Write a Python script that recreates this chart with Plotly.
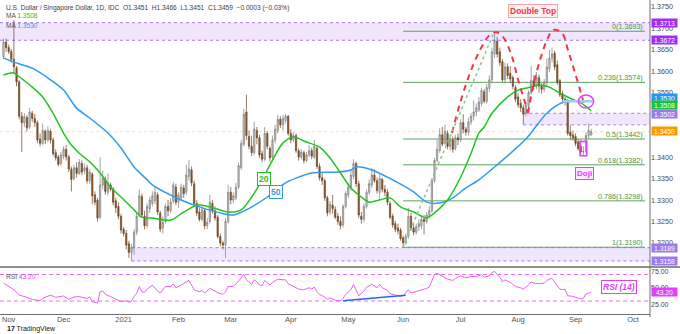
import numpy as np
import pandas as pd
import plotly.graph_objects as go

# ---------------- USD/SGD daily candles (IDC), 29 Oct 2020 .. 9 Sep 2021 ----------------
open_px = [
    1.3634, 1.3668, 1.3655, 1.3646, 1.3628, 1.3608, 1.3575, 1.3495, 1.3480, 1.3492, 1.3470, 1.3502,
    1.3490, 1.3480, 1.3442, 1.3432, 1.3460, 1.3440, 1.3460, 1.3440, 1.3410, 1.3400,
    1.3385, 1.3402, 1.3418, 1.3400, 1.3372, 1.3350, 1.3375, 1.3362, 1.3385, 1.3368,
    1.3375, 1.3345, 1.3360, 1.3312, 1.3300, 1.3260, 1.3335, 1.3348, 1.3318, 1.3335,
    1.3325, 1.3298, 1.3285, 1.3262, 1.3232, 1.3222, 1.3198, 1.3178, 1.3188, 1.3225,
    1.3265, 1.3308, 1.3262, 1.3240, 1.3280, 1.3292, 1.3298, 1.3312, 1.3270, 1.3235,
    1.3250, 1.3285, 1.3275, 1.3298, 1.3330, 1.3295, 1.3305, 1.3328, 1.3318, 1.3355,
    1.3370, 1.3338, 1.3292, 1.3272, 1.3255, 1.3275, 1.3240, 1.3250, 1.3292, 1.3275,
    1.3260, 1.3215, 1.3200, 1.3195, 1.3250, 1.3318, 1.3300, 1.3305, 1.3330, 1.3375,
    1.3430, 1.3505, 1.3448, 1.3425, 1.3410, 1.3462, 1.3445, 1.3408, 1.3395, 1.3455,
    1.3420, 1.3400, 1.3440, 1.3462, 1.3488, 1.3475, 1.3485, 1.3495, 1.3455, 1.3440,
    1.3450, 1.3415, 1.3400, 1.3410, 1.3392, 1.3405, 1.3415, 1.3400, 1.3420, 1.3378,
    1.3352, 1.3345, 1.3305, 1.3272, 1.3288, 1.3278, 1.3262, 1.3250, 1.3242, 1.3285,
    1.3312, 1.3330, 1.3355, 1.3385, 1.3338, 1.3262, 1.3255, 1.3285, 1.3318, 1.3335,
    1.3358, 1.3345, 1.3318, 1.3348, 1.3325, 1.3318, 1.3292, 1.3262, 1.3245, 1.3235,
    1.3230, 1.3212, 1.3200, 1.3215, 1.3262, 1.3235, 1.3225, 1.3238, 1.3240, 1.3255,
    1.3250, 1.3265, 1.3275, 1.3345, 1.3392, 1.3415, 1.3452, 1.3432, 1.3455, 1.3425,
    1.3440, 1.3420, 1.3445, 1.3440, 1.3480, 1.3465, 1.3458, 1.3482, 1.3495, 1.3505,
    1.3510, 1.3525, 1.3552, 1.3530, 1.3560, 1.3580, 1.3640, 1.3670, 1.3645, 1.3622,
    1.3580, 1.3610, 1.3595, 1.3585, 1.3562, 1.3540, 1.3525, 1.3515, 1.3502, 1.3520,
    1.3550, 1.3578, 1.3565, 1.3585, 1.3565, 1.3558, 1.3575, 1.3605, 1.3630, 1.3642,
    1.3615, 1.3578, 1.3548, 1.3535, 1.3530, 1.3458, 1.3452, 1.3448, 1.3435, 1.3425,
    1.3412, 1.3413, 1.3450, 1.3451,
]
high_px = [
    1.3676, 1.3676, 1.3662, 1.3652, 1.3719, 1.3612, 1.3580, 1.3505, 1.3502, 1.3498, 1.3515, 1.3508,
    1.3500, 1.3485, 1.3455, 1.3478, 1.3465, 1.3472, 1.3466, 1.3445, 1.3418, 1.3405,
    1.3412, 1.3425, 1.3428, 1.3405, 1.3378, 1.3382, 1.3388, 1.3395, 1.3392, 1.3385,
    1.3382, 1.3372, 1.3365, 1.3320, 1.3305, 1.3400, 1.3368, 1.3355, 1.3362, 1.3340,
    1.3330, 1.3305, 1.3295, 1.3268, 1.3238, 1.3230, 1.3205, 1.3198, 1.3232, 1.3270,
    1.3325, 1.3315, 1.3275, 1.3292, 1.3308, 1.3320, 1.3330, 1.3318, 1.3275, 1.3262,
    1.3292, 1.3300, 1.3305, 1.3342, 1.3338, 1.3318, 1.3338, 1.3335, 1.3382, 1.3393,
    1.3378, 1.3345, 1.3300, 1.3282, 1.3285, 1.3280, 1.3258, 1.3312, 1.3300, 1.3285,
    1.3265, 1.3222, 1.3205, 1.3258, 1.3335, 1.3330, 1.3318, 1.3340, 1.3388, 1.3440,
    1.3512, 1.3545, 1.3462, 1.3450, 1.3482, 1.3470, 1.3452, 1.3415, 1.3470, 1.3460,
    1.3425, 1.3450, 1.3475, 1.3498, 1.3495, 1.3498, 1.3500, 1.3498, 1.3465, 1.3458,
    1.3455, 1.3420, 1.3418, 1.3415, 1.3412, 1.3428, 1.3422, 1.3440, 1.3425, 1.3385,
    1.3362, 1.3350, 1.3310, 1.3298, 1.3312, 1.3285, 1.3270, 1.3262, 1.3290, 1.3320,
    1.3340, 1.3370, 1.3395, 1.3390, 1.3345, 1.3272, 1.3292, 1.3325, 1.3348, 1.3375,
    1.3372, 1.3352, 1.3360, 1.3352, 1.3335, 1.3325, 1.3298, 1.3268, 1.3252, 1.3245,
    1.3235, 1.3218, 1.3222, 1.3282, 1.3270, 1.3245, 1.3245, 1.3255, 1.3262, 1.3265,
    1.3272, 1.3285, 1.3350, 1.3398, 1.3440, 1.3468, 1.3470, 1.3475, 1.3462, 1.3450,
    1.3448, 1.3452, 1.3455, 1.3488, 1.3500, 1.3470, 1.3492, 1.3502, 1.3532, 1.3525,
    1.3540, 1.3562, 1.3558, 1.3570, 1.3590, 1.3655, 1.3693, 1.3680, 1.3655, 1.3628,
    1.3620, 1.3618, 1.3612, 1.3590, 1.3568, 1.3548, 1.3535, 1.3522, 1.3528, 1.3555,
    1.3612, 1.3590, 1.3598, 1.3592, 1.3572, 1.3582, 1.3630, 1.3650, 1.3655, 1.3648,
    1.3625, 1.3582, 1.3555, 1.3545, 1.3535, 1.3475, 1.3462, 1.3455, 1.3442, 1.3440,
    1.3425, 1.3458, 1.3478, 1.3466,
]
low_px = [
    1.3628, 1.3645, 1.3640, 1.3620, 1.3596, 1.3565, 1.3488, 1.3412, 1.3470, 1.3460, 1.3465, 1.3482,
    1.3470, 1.3432, 1.3425, 1.3428, 1.3430, 1.3435, 1.3432, 1.3402, 1.3392, 1.3378,
    1.3380, 1.3395, 1.3392, 1.3365, 1.3320, 1.3345, 1.3352, 1.3358, 1.3358, 1.3360,
    1.3338, 1.3338, 1.3290, 1.3288, 1.3250, 1.3255, 1.3325, 1.3312, 1.3310, 1.3320,
    1.3288, 1.3270, 1.3255, 1.3222, 1.3215, 1.3185, 1.3165, 1.3158, 1.3172, 1.3218,
    1.3260, 1.3258, 1.3232, 1.3235, 1.3270, 1.3285, 1.3290, 1.3265, 1.3225, 1.3222,
    1.3245, 1.3262, 1.3270, 1.3292, 1.3288, 1.3282, 1.3298, 1.3305, 1.3312, 1.3345,
    1.3332, 1.3285, 1.3262, 1.3250, 1.3250, 1.3232, 1.3232, 1.3245, 1.3268, 1.3252,
    1.3210, 1.3192, 1.3185, 1.3165, 1.3245, 1.3290, 1.3292, 1.3300, 1.3325, 1.3370,
    1.3425, 1.3440, 1.3418, 1.3402, 1.3405, 1.3430, 1.3398, 1.3388, 1.3390, 1.3418,
    1.3390, 1.3395, 1.3432, 1.3455, 1.3468, 1.3462, 1.3478, 1.3450, 1.3432, 1.3435,
    1.3410, 1.3392, 1.3395, 1.3385, 1.3388, 1.3400, 1.3395, 1.3395, 1.3372, 1.3345,
    1.3335, 1.3298, 1.3262, 1.3265, 1.3268, 1.3255, 1.3242, 1.3232, 1.3236, 1.3280,
    1.3305, 1.3322, 1.3348, 1.3330, 1.3258, 1.3245, 1.3248, 1.3280, 1.3312, 1.3328,
    1.3340, 1.3315, 1.3300, 1.3318, 1.3308, 1.3288, 1.3255, 1.3235, 1.3225, 1.3220,
    1.3205, 1.3190, 1.3196, 1.3210, 1.3228, 1.3218, 1.3220, 1.3228, 1.3232, 1.3220,
    1.3245, 1.3258, 1.3270, 1.3340, 1.3388, 1.3410, 1.3425, 1.3428, 1.3418, 1.3415,
    1.3410, 1.3415, 1.3428, 1.3435, 1.3455, 1.3450, 1.3450, 1.3475, 1.3485, 1.3495,
    1.3505, 1.3518, 1.3525, 1.3525, 1.3552, 1.3572, 1.3630, 1.3632, 1.3612, 1.3575,
    1.3572, 1.3582, 1.3572, 1.3558, 1.3528, 1.3515, 1.3505, 1.3476, 1.3495, 1.3512,
    1.3545, 1.3556, 1.3558, 1.3550, 1.3548, 1.3552, 1.3565, 1.3598, 1.3620, 1.3602,
    1.3568, 1.3540, 1.3525, 1.3520, 1.3450, 1.3440, 1.3438, 1.3425, 1.3415, 1.3403,
    1.3405, 1.3408, 1.3442, 1.3451,
]
close_px = [
    1.3668, 1.3655, 1.3646, 1.3628, 1.3610, 1.3575, 1.3495, 1.3480, 1.3494, 1.3468, 1.3505, 1.3490,
    1.3480, 1.3440, 1.3432, 1.3462, 1.3440, 1.3462, 1.3440, 1.3408, 1.3398, 1.3383,
    1.3405, 1.3418, 1.3400, 1.3372, 1.3348, 1.3375, 1.3362, 1.3388, 1.3365, 1.3375,
    1.3345, 1.3365, 1.3310, 1.3295, 1.3258, 1.3335, 1.3350, 1.3320, 1.3340, 1.3325,
    1.3295, 1.3282, 1.3262, 1.3230, 1.3222, 1.3195, 1.3178, 1.3190, 1.3225, 1.3262,
    1.3310, 1.3265, 1.3240, 1.3285, 1.3300, 1.3310, 1.3318, 1.3272, 1.3232, 1.3248,
    1.3285, 1.3275, 1.3295, 1.3335, 1.3295, 1.3312, 1.3330, 1.3315, 1.3358, 1.3372,
    1.3340, 1.3292, 1.3270, 1.3255, 1.3278, 1.3240, 1.3248, 1.3295, 1.3275, 1.3258,
    1.3215, 1.3200, 1.3195, 1.3250, 1.3318, 1.3300, 1.3310, 1.3330, 1.3380, 1.3432,
    1.3500, 1.3450, 1.3425, 1.3410, 1.3465, 1.3445, 1.3405, 1.3395, 1.3455, 1.3425,
    1.3398, 1.3440, 1.3465, 1.3488, 1.3475, 1.3490, 1.3495, 1.3455, 1.3440, 1.3450,
    1.3415, 1.3400, 1.3412, 1.3392, 1.3405, 1.3415, 1.3402, 1.3425, 1.3378, 1.3352,
    1.3345, 1.3305, 1.3270, 1.3290, 1.3280, 1.3260, 1.3250, 1.3240, 1.3285, 1.3315,
    1.3330, 1.3358, 1.3385, 1.3338, 1.3265, 1.3255, 1.3285, 1.3318, 1.3338, 1.3358,
    1.3345, 1.3322, 1.3350, 1.3325, 1.3318, 1.3295, 1.3260, 1.3242, 1.3232, 1.3228,
    1.3210, 1.3200, 1.3215, 1.3262, 1.3235, 1.3225, 1.3238, 1.3245, 1.3255, 1.3250,
    1.3265, 1.3275, 1.3345, 1.3392, 1.3418, 1.3452, 1.3430, 1.3460, 1.3425, 1.3440,
    1.3418, 1.3445, 1.3440, 1.3480, 1.3465, 1.3458, 1.3482, 1.3495, 1.3505, 1.3515,
    1.3528, 1.3555, 1.3530, 1.3562, 1.3580, 1.3645, 1.3672, 1.3640, 1.3620, 1.3580,
    1.3610, 1.3590, 1.3582, 1.3565, 1.3535, 1.3522, 1.3515, 1.3500, 1.3520, 1.3550,
    1.3578, 1.3565, 1.3585, 1.3565, 1.3558, 1.3575, 1.3610, 1.3630, 1.3640, 1.3610,
    1.3575, 1.3545, 1.3535, 1.3530, 1.3455, 1.3450, 1.3445, 1.3432, 1.3420, 1.3412,
    1.3413, 1.3450, 1.3462, 1.3459,
]

dates = pd.bdate_range("2020-10-29", periods=len(close_px))
bar = np.arange(len(close_px))


def bar_of(day):
    return int(dates.get_loc(pd.Timestamp(day)))


# moving averages (bar number in the daily series, value)
ma20_bar = [0, 4, 6, 11, 15, 19, 23, 26, 29, 33, 37, 41, 45, 50, 53, 57, 64, 69, 74, 79,
            86, 91, 96, 99, 103, 107, 111, 116, 121, 125, 129, 133, 137, 140, 144, 148, 152, 157, 162, 164,
            170, 175, 179, 182, 184, 187, 193, 197, 202, 205, 209, 213, 217, 221, 225]
ma20_val = [1.3591, 1.3596, 1.3587, 1.3563, 1.3540, 1.3502, 1.3456, 1.3428, 1.3409, 1.3389,
            1.3363, 1.3330, 1.3307, 1.3277, 1.3260, 1.3258, 1.3253, 1.3272, 1.3288, 1.3284,
            1.3272, 1.3277, 1.3316, 1.3347, 1.3393, 1.3433, 1.3447, 1.3435, 1.3423, 1.3398,
            1.3363, 1.3328, 1.3307, 1.3295, 1.3300, 1.3305, 1.3284, 1.3272, 1.3258, 1.3265,
            1.3300, 1.3353, 1.3409, 1.3456, 1.3470, 1.3502, 1.3540, 1.3556, 1.3563, 1.3568,
            1.3563, 1.3549, 1.3537, 1.3526, 1.3508]
ma50_bar = [0, 4, 11, 18, 23, 28, 33, 40, 45, 50, 55, 57, 68, 75, 83, 88, 93, 101, 108, 112,
            118, 128, 133, 135, 141, 149, 157, 162, 167, 172, 177, 182, 189, 200, 208, 214, 218, 225]
ma50_val = [1.3631, 1.3621, 1.3607, 1.3580, 1.3556, 1.3514, 1.3491, 1.3456, 1.3421, 1.3377,
            1.3347, 1.3335, 1.3300, 1.3284, 1.3270, 1.3265, 1.3277, 1.3307, 1.3340, 1.3351,
            1.3363, 1.3365, 1.3370, 1.3377, 1.3370, 1.3347, 1.3319, 1.3295, 1.3293, 1.3305,
            1.3328, 1.3347, 1.3382, 1.3442, 1.3502, 1.3527, 1.3530, 1.3530]

# RSI(14)
rsi_bar = [0, 2, 4, 6, 8, 9, 11, 13, 14, 15, 17, 18, 20, 23, 25, 27, 29, 32, 33, 34,
           36, 37, 38, 39, 41, 44, 45, 47, 48, 49, 50, 51, 52, 53, 54, 55, 57, 59, 60, 62,
           64, 65, 66, 68, 70, 71, 73, 75, 76, 77, 79, 81, 82, 84, 85, 86, 88, 90, 91, 92,
           93, 94, 95, 96, 97, 98, 99, 100, 101, 102, 103, 104, 105, 107, 108, 109, 110, 112, 113, 115,
           117, 118, 119, 120, 121, 123, 124, 125, 127, 129, 130, 131, 133, 134, 135, 136, 138, 139, 141, 142,
           143, 144, 145, 147, 148, 150, 152, 153, 155, 156, 158, 160, 162, 163, 164, 165, 166, 168, 170, 172,
           173, 175, 177, 179, 181, 183, 184, 186, 187, 188, 189, 190, 191, 192, 194, 196, 198, 199, 201, 202,
           203, 205, 207, 208, 209, 210, 211, 212, 213, 215, 216, 218, 220, 221, 222, 223, 224, 225]
rsi_val = [57, 52, 47, 39, 37, 35.6, 32.5, 31, 30.5, 34, 38, 39, 35.6, 37.6, 32.5, 36, 36.6, 34, 36, 29,
           27, 44, 45, 40, 36.6, 31.5, 29, 30.5, 28, 30, 37, 41.6, 51.8, 44, 43, 48, 54, 45, 42, 52,
           51.8, 56, 50, 54, 59, 61, 46.7, 44, 46, 42, 49, 45, 42.7, 40, 44, 51.8, 52, 60, 65, 70.5,
           62, 58, 55, 62, 59, 54, 53, 61, 57, 54, 58, 60, 63, 62, 62, 56, 54, 50, 48, 47,
           50, 48, 51, 44, 40, 36, 32, 35, 31, 30, 34, 40, 47, 55, 47, 38, 45, 51, 55, 53,
           50, 55, 50, 46, 41, 39, 37, 38, 47, 42, 44, 46, 49, 51, 62, 70, 72, 67, 63, 61,
           64, 68, 65, 67, 67, 69.5, 66, 68, 73, 74.6, 70, 66, 59, 62, 58, 52, 50, 47.7, 54, 59,
           57, 56, 57, 61, 63, 64, 58, 52, 48, 47, 38, 37, 34, 33, 34, 41, 42, 43.2]
rsi_upper, rsi_lower = 70, 30
# rising RSI trendline across the April / June lows
rsi_trend_days = ["2021-04-29", "2021-06-02"]
rsi_trend_val = [30.5, 38.6]

# Fibonacci retracement of the Jun-Jul rally
fib_low_day, fib_high_day = "2021-06-01", "2021-07-20"
fib_ratio = [0, 0.236, 0.5, 0.618, 0.786, 1]
fib_level = [1.3693, 1.3574, 1.3442, 1.3382, 1.3298, 1.3190]

# shaded support / resistance zones: (start day or None for chart start, low, high)
zones = [(None, 1.3672, 1.3713), ("2021-08-04", 1.3475, 1.3502), ("2021-01-06", 1.3158, 1.3189)]

# hand-drawn double-top arcs: (bar position, price) anchors
arc1_bar = [171.7, 174.8, 178.6, 182.4, 185.5, 188.2, 191.2, 194.7, 197.0, 199.7, 200.8]
arc1_px = [1.3456, 1.3526, 1.3596, 1.3649, 1.3680, 1.3691, 1.3680, 1.3633, 1.3580, 1.3526, 1.3502]
arc2_bar = [200.8, 202.7, 205.4, 208.1, 210.4, 213.8, 216.1, 218.8, 221.5, 222.6]
arc2_px = [1.3502, 1.3563, 1.3626, 1.3673, 1.3696, 1.3689, 1.3649, 1.3596, 1.3540, 1.3515]

doji_day = "2021-09-06"
cross_day = "2021-09-07"

# price scale labels (the ones sitting under a price tag are left out)
price_ticks = [1.3200, 1.3250, 1.3300, 1.3350, 1.3400, 1.3550, 1.3600, 1.3650, 1.3700, 1.3750]

# ---------------- layout geometry ----------------
W, H = 680, 334
MR, MB = 30, 20
PW, PH = W - MR, H - MB          # plot area 650 x 314
MAIN_BOTTOM, RSI_TOP = 266, 268  # pane split (px from top)
X_LO, X_HI = -1.33, 247.5
Y_LO, Y_HI = 1.31463, 1.37658
R_LO, R_HI = 10.4, 79.8
FIB_X1 = 245.6
FONT = "Liberation Sans, Arial, sans-serif"

VIOLET = "#a12cf5"
PURPLE = "#9a78f2"
GREEN = "#22c322"
BLUE = "#2f9bf0"
MAGENTA = "#e040fb"
FIBC = "#5ea35e"


def pxx(x):
    return x / PW


def pxy(y):
    return 1 - y / PH


fig = go.Figure()

fig.add_trace(go.Candlestick(
    x=bar, open=open_px, high=high_px, low=low_px, close=close_px,
    increasing=dict(line=dict(color="#7b7b7b", width=0.7), fillcolor="#cfcfcf"),
    decreasing=dict(line=dict(color="#6b4321", width=0.7), fillcolor="#8d5a2b"),
    whiskerwidth=0, xaxis="x", yaxis="y", showlegend=False, name="USD/SGD"))

fig.add_trace(go.Scatter(x=ma50_bar, y=ma50_val, mode="lines", line=dict(color=BLUE, width=1.5, shape="spline", smoothing=0.8),
                         xaxis="x", yaxis="y", showlegend=False, hoverinfo="skip"))
fig.add_trace(go.Scatter(x=ma20_bar, y=ma20_val, mode="lines", line=dict(color=GREEN, width=1.5, shape="spline", smoothing=0.8),
                         xaxis="x", yaxis="y", showlegend=False, hoverinfo="skip"))

for xs, ys in [(arc1_bar, arc1_px), (arc2_bar, arc2_px)]:
    fig.add_trace(go.Scatter(x=xs, y=ys, mode="lines", line=dict(color="#f23645", width=2, dash="6px,5px", shape="spline"),
                             xaxis="x", yaxis="y", showlegend=False, hoverinfo="skip"))

fig.add_trace(go.Scatter(x=rsi_bar, y=rsi_val, mode="lines", line=dict(color="#ee5ff2", width=1),
                         xaxis="x2", yaxis="y2", showlegend=False, hoverinfo="skip"))
fig.add_trace(go.Scatter(x=[bar_of(d) for d in rsi_trend_days], y=rsi_trend_val, mode="lines",
                         line=dict(color="#2962ff", width=1.5),
                         xaxis="x2", yaxis="y2", showlegend=False, hoverinfo="skip"))

shapes = []


def hline(y, x0, x1, color, width=1.0, dash="solid", xref="x", yref="y", layer="below"):
    shapes.append(dict(type="line", xref=xref, yref=yref, x0=x0, x1=x1, y0=y, y1=y,
                       line=dict(color=color, width=width, dash=dash), layer=layer))


for start, lo, hi in zones:
    x0 = X_LO if start is None else bar_of(start)
    shapes.append(dict(type="rect", xref="x", yref="y", x0=x0, x1=X_HI, y0=lo, y1=hi,
                       fillcolor="rgba(179,136,255,0.2)", line=dict(width=0), layer="below"))
    hline(lo, x0, X_HI, "#a874f7", 1, "3px,3px")
    hline(hi, x0, X_HI, "#a874f7", 1, "3px,3px")

# last price line
hline(close_px[-1], X_LO, X_HI, "rgba(255,160,40,0.4)", 1, "dot")

# fibonacci levels
f0, f1 = bar_of(fib_low_day), bar_of(fib_high_day)
for lv in fib_level:
    hline(lv, f0, FIB_X1, FIBC, 1)
shapes.append(dict(type="line", xref="x", yref="y", x0=f0, y0=min(fib_level), x1=f1, y1=max(fib_level),
                   line=dict(color="#8cc68b", width=1.5, dash="dot"), layer="above"))

# MA50 level marker and crossover circle
cb = bar_of(cross_day)
hline(ma50_val[-1], bar_of("2021-08-25"), len(close_px) - 0.5, "#9ccff8", 2.5, layer="above")
shapes.append(dict(type="circle", xref="x", yref="y", x0=cb - 2.9, x1=cb + 2.9, y0=ma50_val[-1] - 0.00155,
                   y1=ma50_val[-1] + 0.00145, line=dict(color=MAGENTA, width=1.5), layer="above"))

# doji box
db = bar_of(doji_day)
shapes.append(dict(type="rect", xref="x", yref="y", x0=db - 1.3, x1=db + 1.3, y0=low_px[db] - 0.0002,
                   y1=high_px[db] + 0.0011, line=dict(color=MAGENTA, width=1.5), layer="above"))

# RSI bands
hline(rsi_upper, X_LO, X_HI, "#ea6cf5", 1, "4px,3px", xref="x2", yref="y2")
hline(rsi_lower, X_LO, X_HI, "#ea6cf5", 1, "4px,3px", xref="x2", yref="y2")

# pane separator and right axis line
shapes.append(dict(type="line", xref="paper", yref="paper", x0=0, x1=W / PW, y0=pxy(267), y1=pxy(267),
                   line=dict(color="#8f8f8f", width=2)))
shapes.append(dict(type="line", xref="paper", yref="paper", x0=1, x1=1, y0=pxy(317), y1=1,
                   line=dict(color="#6f6f6f", width=1)))

ann = []


def txt(x, y, text, size=7, color="#333", xanchor="left", yanchor="middle", **kw):
    ann.append(dict(xref="paper", yref="paper", x=x, y=y, text=text, showarrow=False, xanchor=xanchor,
                    yanchor=yanchor, font=dict(family=FONT, size=size, color=color), **kw))


# header
txt(pxx(4), pxy(7.5),
    "U.S. Dollar / Singapore Dollar, 1D, IDC  O%.4f  H%.4f  L%.4f  C%.4f  −0.0003 (−0.03%%)"
    % (open_px[-1], high_px[-1], low_px[-1], close_px[-1]), size=6.6, color="#3b3e48")
txt(pxx(4), pxy(16), "MA <span style='color:%s'>%.4f</span>" % (GREEN, ma20_val[-1]), size=6.6, color="#555")
txt(pxx(4), pxy(26), "MA <span style='color:%s'>%.4f</span>" % (BLUE, ma50_val[-1]), size=6.6, color="#555")
txt(pxx(4), pxy(276), "RSI <span style='color:%s'>%.2f</span>" % (MAGENTA, rsi_val[-1]), size=6.6, color="#555")
txt(pxx(5), pxy(329), "<b>17</b> TradingView", size=7, color="#131722")

# fib labels
for r, lv in zip(fib_ratio, fib_level):
    ann.append(dict(xref="x", yref="y", x=FIB_X1, y=lv, text="%g(%.4f)" % (r, lv), showarrow=False,
                    xanchor="right", yanchor="bottom", yshift=-2, font=dict(family=FONT, size=7.2, color="#4a944a")))


def boxed(x, y, text, color, size=8.5, xref="x", yref="y", bg="white", border=None):
    ann.append(dict(xref=xref, yref=yref, x=x, y=y, text=text, showarrow=False,
                    font=dict(family=FONT, size=size, color=color), bgcolor=bg,
                    bordercolor=border or color, borderwidth=1, borderpad=1))


boxed(202.7, 1.3740, "<b>Double Top</b>", "#f23645", size=8.5, bg="rgba(255,240,242,0.95)", border="#f6a3ab")
boxed(db + 0.3, 1.3362, "<b>Doji</b>", MAGENTA, size=8, bg="rgba(253,232,255,0.9)")
boxed(99.7, 1.3348, "<b>20</b>", GREEN, size=8.5)
boxed(104.5, 1.3319, "<b>50</b>", BLUE, size=8.5)
boxed(235.6, 51.1, "<b><i>RSI (14)</i></b>", MAGENTA, size=8.5, yref="y2")


def tag(val, color, shift=0, yref="y", fmt="%.4f"):
    ann.append(dict(xref="paper", yref=yref, x=1.0015, y=val, yshift=shift, text=fmt % val, showarrow=False,
                    xanchor="left", width=25, height=8, align="center", borderpad=0,
                    font=dict(family=FONT, size=6.8, color="white"), bgcolor=color))


tag(1.3713, VIOLET)
tag(1.3672, VIOLET)
tag(ma50_val[-1], "#2196f3", 3.6)
tag(ma20_val[-1], "#18c23a", 5.6)
tag(1.3502, PURPLE, -0.5)
tag(close_px[-1], "#ff9800", 0.8)
tag(1.3189, PURPLE)
tag(1.3158, PURPLE)
tag(rsi_val[-1], MAGENTA, 0, yref="y2", fmt="%.2f")

# month ticks along the bottom axis
axis_days = pd.bdate_range(dates[0], "2021-10-29")
month_pos = [j for j in range(1, len(axis_days)) if axis_days[j].month != axis_days[j - 1].month]
month_txt = [str(axis_days[j].year) if axis_days[j].month == 1 else axis_days[j].strftime("%b") for j in month_pos]

fig.update_layout(
    width=W, height=H, margin=dict(l=0, r=MR, t=0, b=MB),
    paper_bgcolor="white", plot_bgcolor="white", showlegend=False,
    font=dict(family=FONT, size=7, color="#444"),
    shapes=shapes, annotations=ann,
    xaxis=dict(domain=[0, 1], range=[X_LO, X_HI], anchor="y", showticklabels=False, showgrid=False,
               zeroline=False, showline=False, rangeslider=dict(visible=False), fixedrange=True),
    yaxis=dict(domain=[1 - MAIN_BOTTOM / PH, 1], range=[Y_LO, Y_HI], side="right", anchor="x",
               tickvals=price_ticks, ticktext=["%.4f" % v for v in price_ticks], showgrid=False,
               zeroline=False, showline=False, ticks="", tickfont=dict(size=7.2, color="#4a4a4a")),
    xaxis2=dict(domain=[0, 1], range=[X_LO, X_HI], anchor="y2", matches="x", tickvals=month_pos,
                ticktext=month_txt, showgrid=False, zeroline=False, showline=True, linecolor="#6f6f6f",
                linewidth=1, ticks="", ticklabelstandoff=-2, tickfont=dict(size=7.5, color="#555")),
    yaxis2=dict(domain=[0, 1 - RSI_TOP / PH], range=[R_LO, R_HI], side="right", anchor="x2",
                tickvals=[25, 50, 75], ticktext=["25.00", "50.00", "75.00"], showgrid=False, zeroline=False,
                showline=False, ticks="", tickfont=dict(size=7, color="#4a4a4a")),
)

fig.write_html("out.html")
